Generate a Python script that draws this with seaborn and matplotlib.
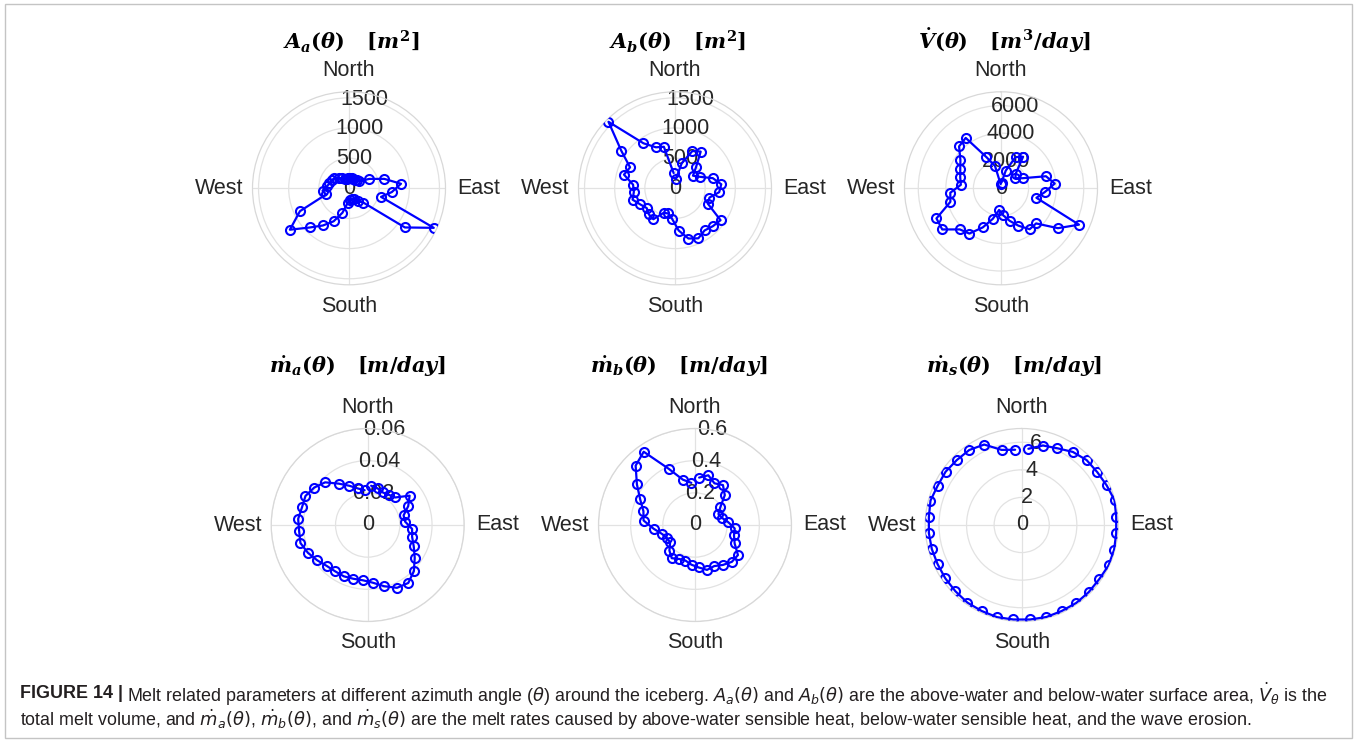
import numpy as np
import matplotlib
matplotlib.use("Agg")
import matplotlib.pyplot as plt
from matplotlib import font_manager
from matplotlib.patches import Rectangle
import seaborn as sns

# Azimuth of each sample (degrees, clockwise from North)
azimuth_deg = np.arange(5, 360, 10)

# Above-water surface area A_a [m^2]
area_above = [175, 170, 165, 175, 190, 200, 368, 605, 865, 713, 550, 1551,
              1132, 334, 262, 200, 180, 190, 240, 419, 604, 752, 919, 1197,
              897, 395, 440, 365, 336, 310, 300, 240, 207, 175, 160, 165]

# Below-water surface area A_b [m^2]
area_below = [150, 428, 682, 743, 492, 364, 452, 649, 770, 736, 592, 599,
              922, 888, 854, 915, 862, 703, 514, 431, 450, 626, 613, 572,
              634, 728, 685, 698, 876, 822, 1088, 1560, 911, 750, 713, 252]

# Total melt volume [m^3/day]
melt_volume = [420, 1323, 2499, 2795, 1515, 1270, 1732, 3379, 3913, 3184, 2660, 6241,
               5043, 3605, 3624, 2992, 2446, 1979, 1575, 2292, 3131, 4009, 4218, 5204,
               5166, 3803, 3691, 2924, 3062, 3261, 3596, 4302, 4463, 2489, 1674, 300]

# Melt rate from above-water sensible heat [m/day]
melt_above = [0.0245, 0.0236, 0.0223, 0.0229, 0.0242, 0.0318, 0.0278, 0.0231, 0.0234,
              0.0277, 0.0286, 0.0316, 0.0357, 0.0406, 0.0440, 0.0431, 0.0394, 0.0360,
              0.0345, 0.0346, 0.0352, 0.0352, 0.0360, 0.0383, 0.0410, 0.0433, 0.0428,
              0.0434, 0.0423, 0.0427, 0.0406, 0.0375, 0.0314, 0.0269, 0.0235, 0.0217]

# Melt rate from below-water sensible heat [m/day]
melt_below = [0.296, 0.320, 0.286, 0.303, 0.262, 0.192, 0.161, 0.173, 0.207,
              0.248, 0.251, 0.272, 0.326, 0.324, 0.303, 0.282, 0.289, 0.265,
              0.248, 0.229, 0.233, 0.252, 0.225, 0.189, 0.192, 0.213, 0.259,
              0.321, 0.332, 0.376, 0.441, 0.522, 0.556, 0.385, 0.292, 0.263]

# Melt rate from wave erosion [m/day]
melt_wave = [5.55, 5.97, 6.14, 6.47, 6.66, 6.69, 6.80, 6.97, 6.88, 6.88, 6.94, 6.95,
             6.86, 6.88, 6.90, 6.88, 6.91, 6.88, 6.88, 6.92, 6.88, 6.87, 6.80, 6.76,
             6.73, 6.75, 6.76, 6.76, 6.85, 6.73, 6.74, 6.66, 6.64, 6.44, 5.64, 5.48]

# Radial ticks and limits per panel
ticks_area = [0, 500, 1000, 1500]
ticks_volume = [0, 2000, 4000, 6000]
ticks_above = [0, 0.02, 0.04, 0.06]
ticks_below = [0, 0.2, 0.4, 0.6]
ticks_wave = [0, 2, 4, 6]
rmax_list = [1600, 1600, 7000, 0.06, 0.6, 7]

titles = [r'$A_a(\theta)\quad[m^2]$',
          r'$A_b(\theta)\quad[m^2]$',
          r'$\dot{V}(\theta)\quad[m^3/day]$',
          r'$\dot{m}_a(\theta)\quad[m/day]$',
          r'$\dot{m}_b(\theta)\quad[m/day]$',
          r'$\dot{m}_s(\theta)\quad[m/day]$']

directions = ['North', 'East', 'South', 'West']

sns.set_style("white")
plt.rcParams['font.family'] = ['Liberation Sans', 'DejaVu Sans']
plt.rcParams['mathtext.fontset'] = 'custom'
plt.rcParams['mathtext.it'] = 'DejaVu Serif:italic:bold'
plt.rcParams['mathtext.rm'] = 'DejaVu Serif:bold'
plt.rcParams['mathtext.bf'] = 'DejaVu Serif:bold'

W, H = 1357, 742
fig = plt.figure(figsize=(W / 100, H / 100), dpi=100)
fig.patch.set_facecolor('white')

text_color = '#262626'
grid_color = '#e2e2e2'

series = [area_above, area_below, melt_volume, melt_above, melt_below, melt_wave]
tick_sets = [ticks_area, ticks_area, ticks_volume, ticks_above, ticks_below, ticks_wave]

# panel centres and radius in pixels
centres = [(349, 188.3), (675, 188.3), (1001, 188.3),
           (367.7, 525), (695, 525), (1021.7, 525)]
R = 96.5
title_pos = [(351, 41), (678, 41), (1004, 41),
             (358, 367), (679, 367), (1014, 367)]

theta = np.deg2rad(azimuth_deg)

for i in range(6):
    cx, cy = centres[i]
    ax = fig.add_axes([(cx - R) / W, 1 - (cy + R) / H, 2 * R / W, 2 * R / H],
                      projection='polar')
    ax.set_theta_zero_location('N')
    ax.set_theta_direction(-1)
    sns.lineplot(x=theta, y=series[i], ax=ax, sort=False, color='blue',
                 linewidth=1.6, marker='o', markersize=6.5,
                 markerfacecolor='none', markeredgecolor='blue',
                 markeredgewidth=1.5, zorder=4)
    rmax = rmax_list[i]
    ticks = tick_sets[i]
    ax.set_ylim(0, rmax)
    ax.set_yticks(ticks[1:])
    ax.set_yticklabels([])
    ax.set_xticks(np.deg2rad([0, 90, 180, 270]))
    ax.set_xticklabels([])
    ax.set_xlabel('')
    ax.set_ylabel('')
    ax.tick_params(length=0)
    ax.grid(True, color=grid_color, linewidth=0.9)
    ax.spines['polar'].set_color('#d8d8d8')
    ax.spines['polar'].set_linewidth(0.9)
    ax.set_facecolor('white')

    # radial tick labels along the 10 degree spoke
    for v in ticks:
        ax.text(np.deg2rad(10), v, '{:g}'.format(v), ha='center', va='center',
                fontsize=15.5, color=text_color, zorder=2)

    # compass labels
    for ang, name in zip([0, 90, 180, 270], directions):
        rr = rmax * (118 / R) if ang in (0, 180) else rmax * (129.5 / R)
        ax.text(np.deg2rad(ang), rr, name, ha='center', va='center',
                fontsize=15.5, color=text_color, clip_on=False)

    tx, ty = title_pos[i]
    fig.text(tx / W, 1 - ty / H, titles[i], ha='center', va='center',
             fontsize=15, color='black')

# caption
names = {f.name for f in font_manager.fontManager.ttflist}
cap_family = 'Liberation Sans Narrow' if 'Liberation Sans Narrow' in names else 'Liberation Sans'
cap_color = '#231f20'
cap_head = 'FIGURE 14 |'
cap_line1 = (r'Melt related parameters at different azimuth angle ($\theta$) around the iceberg. '
             r'$A_a(\theta)$ and $A_b(\theta)$ are the above-water and below-water surface area, '
             r'$\dot{V}_\theta$ is the')
cap_line2 = (r'total melt volume, and $\dot{m}_a(\theta)$, $\dot{m}_b(\theta)$, and $\dot{m}_s(\theta)$ '
             r'are the melt rates caused by above-water sensible heat, below-water sensible heat, '
             r'and the wave erosion.')

fig.canvas.draw()
renderer = fig.canvas.get_renderer()


def draw_caption(size):
    x0 = 20
    head = fig.text(x0 / W, 1 - 694 / H, cap_head, fontsize=size, fontweight='bold',
                    family=cap_family, color=cap_color, ha='left', va='center')
    hw = head.get_window_extent(renderer).width
    body = fig.text((x0 + hw + 0.28 * size) / W, 1 - 694 / H, cap_line1, fontsize=size,
                    family=cap_family, color=cap_color, ha='left', va='center',
                    math_fontfamily='dejavusans')
    second = fig.text(x0 / W, 1 - 720 / H, cap_line2, fontsize=size,
                      family=cap_family, color=cap_color, ha='left', va='center',
                      math_fontfamily='dejavusans')
    right = body.get_window_extent(renderer).x1
    return [head, body, second], right - x0


size = 12.0
for _ in range(2):
    parts, width = draw_caption(size)
    for p in parts:
        p.remove()
    size *= 1310 / width
draw_caption(size)

fig.add_artist(Rectangle((5 / W, 4 / H), (1352 - 5) / W, (738 - 4) / H,
                         transform=fig.transFigure, fill=False,
                         edgecolor='#c4c4c4', linewidth=1))

fig.savefig('out.png', dpi=100)
